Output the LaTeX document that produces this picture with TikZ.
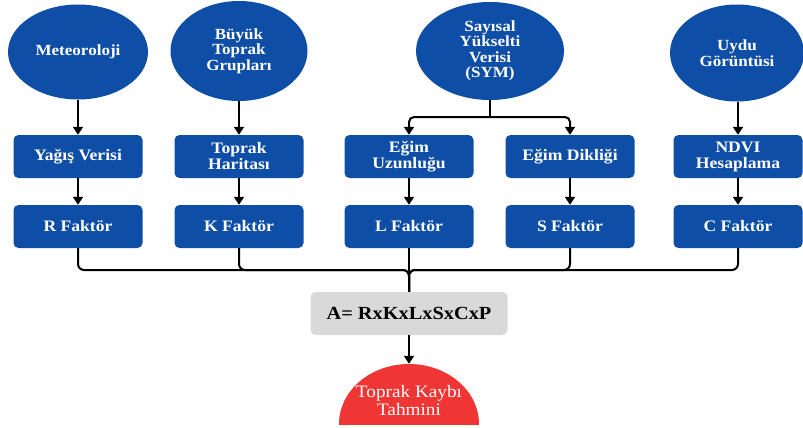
\documentclass[tikz,border=0pt]{standalone}
\usepackage{fontspec}
\setmainfont{Liberation Serif}[FakeStretch=1.1]
\usetikzlibrary{arrows.meta,shapes.geometric}
\definecolor{nblue}{HTML}{0E4EA6}
\definecolor{nred}{HTML}{F03535}
\definecolor{ngray}{HTML}{D9D9D9}
\begin{document}
\begin{tikzpicture}[x=1pt,y=-1pt,
  src/.style={ellipse, fill=nblue, text=white, inner sep=0pt, align=center,
    font=\fontsize{15.5}{15.5}\selectfont\bfseries},
  stepbox/.style={rectangle, rounded corners=5pt, fill=nblue, text=white,
    minimum width=129pt, minimum height=43pt, inner sep=0pt, align=center,
    font=\fontsize{16}{16}\selectfont\bfseries},
  arr/.style={line width=2pt, -{Triangle[width=10pt,length=8pt]}},
  conn/.style={line width=2pt, rounded corners=6pt}]
\useasboundingbox (0,0) rectangle (803,428);

% source ellipses
\node[src, minimum width=140pt, minimum height=95pt] (met) at (78,52) {Meteoroloji};
\node[src, minimum width=137pt, minimum height=100pt] (buy) at (239,51) {Büyük\\Toprak\\Grupları};
\node[src, minimum width=148pt, minimum height=98pt] (sym) at (490,51) {Sayısal\\Yükselti\\Verisi\\(SYM)};
\node[src, minimum width=134pt, minimum height=97pt] (uydu) at (737,53) {Uydu\\Görüntüsi};

% first row of boxes
\node[stepbox] (yag) at (78,156.5) {Yağış Verisi};
\node[stepbox] (har) at (239,156.5) {Toprak\\Haritası};
\node[stepbox] (uzn) at (409,156.5) {Eğim\\Uzunluğu};
\node[stepbox] (dik) at (570,156.5) {Eğim Dikliği};
\node[stepbox] (ndvi) at (738,156.5) {NDVI\\Hesaplama};

% second row of boxes
\node[stepbox] (R) at (78,226.5) {R Faktör};
\node[stepbox] (K) at (239,226.5) {K Faktör};
\node[stepbox] (L) at (409,226.5) {L Faktör};
\node[stepbox] (S) at (570,226.5) {S Faktör};
\node[stepbox] (C) at (738,226.5) {C Faktör};

% formula
\node[rectangle, rounded corners=5pt, fill=ngray, minimum width=197pt, minimum height=43pt,
  inner sep=0pt, font=\fontsize{18.5}{19}\selectfont\bfseries] (F) at (409,313.5) {A= RxKxLxSxCxP};

% result
\begin{scope}
  \clip (0,0) rectangle (803,424);
  \node[ellipse, fill=nred, minimum width=140pt, minimum height=120pt, inner sep=0pt] (out) at (409,424) {};
\end{scope}
\node[text=white, align=center, inner sep=0pt, font=\fontsize{17.5}{18}\selectfont] (outtxt) at (409,401) {Toprak Kaybı\\Tahmini};

% arrows top
\draw[arr] (met.south) -- (yag.north);
\draw[arr] (buy.south) -- (har.north);
\draw[arr] (uydu.south -| ndvi.north) -- (ndvi.north);
\coordinate (symj) at (490,117);
\draw[line width=2pt] (sym.south) -- (symj);
\draw[arr, rounded corners=5pt] (symj) -| (uzn.north);
\draw[arr, rounded corners=5pt] (symj) -| (dik.north);

% arrows middle
\draw[arr] (yag.south) -- (R.north);
\draw[arr] (har.south) -- (K.north);
\draw[arr] (uzn.south) -- (L.north);
\draw[arr] (dik.south) -- (S.north);
\draw[arr] (ndvi.south) -- (C.north);

% merge to formula
\coordinate (mj) at (409,270);
\draw[conn] (R.south) |- (mj) -- (F.north);
\draw[conn] (K.south) |- (mj) -- (F.north);
\draw[conn] (S.south) |- (mj) -- (F.north);
\draw[conn] (C.south) |- (mj) -- (F.north);
\draw[line width=2pt] (L.south) -- (F.north);

% to result
\draw[arr] (F.south) -- (out.north);
\end{tikzpicture}
\end{document}
